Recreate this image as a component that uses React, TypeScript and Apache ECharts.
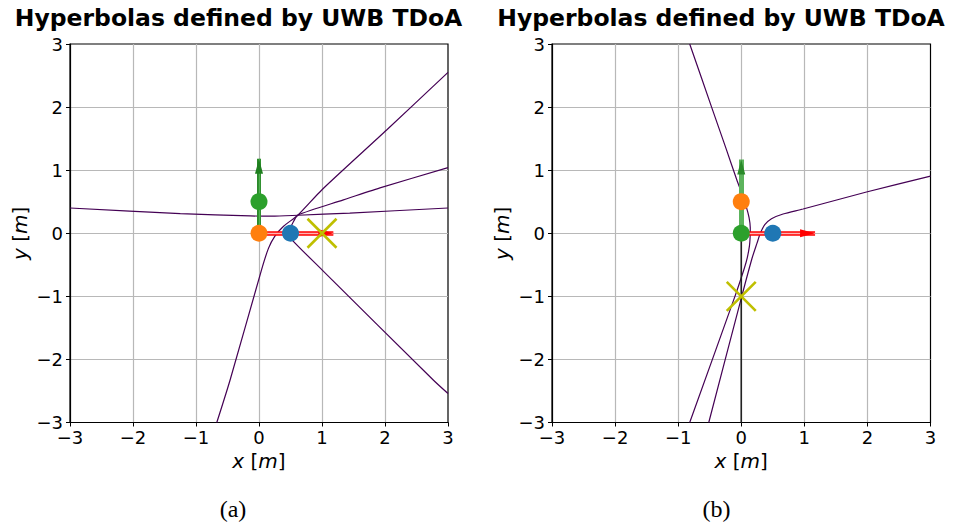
import React, { useEffect, useRef } from "react";
import * as echarts from "echarts";

// ---------- data ----------
const AXIS_MIN = -3;
const AXIS_MAX = 3;
const TITLE = "Hyperbolas defined by UWB TDoA";
const CAPTIONS = ["(a)", "(b)"];

// plot (a)
const A_BLUE = [0.5, 0];
const A_ORANGE = [0, 0];
const A_GREEN = [0, 0.5];
const A_TAG = [1, 0];
const A_RED_ARROW = [[0, 0], [1.18, 0]];
const A_GREEN_ARROW = [[0, 0], [0, 1.18]];
const A_CURVE1 = [[3.0, 2.55], [2.03, 1.64], [1.0, 0.69], [0.62, 0.29], [0.39, 0.11], [0.25, -0.05], [0.15, -0.24], [0.04, -0.58], [-0.46, -2.33], [-0.67, -3.0]];
const A_CURVE2 = [[3.0, 1.04], [1.92, 0.72], [1.34, 0.53], [0.62, 0.29], [0.55, 0.19], [0.5, 0.08], [0.49, -0.02], [0.52, -0.1], [1.0, -0.58], [2.77, -2.33], [3.0, -2.54]];
const A_CURVE3 = [[-3.0, 0.4], [-1.25, 0.31], [-0.14, 0.275], [0.2, 0.27], [0.62, 0.285], [1.44, 0.32], [3.0, 0.4]];

// plot (b)
const B_BLUE = [0.5, 0];
const B_ORANGE = [0, 0.5];
const B_GREEN = [0, 0];
const B_TAG = [0, -1];
const B_RED_ARROW = [[0, 0], [1.17, 0]];
const B_GREEN_ARROW = [[0, 0], [0, 1.17]];
const B_RAY = [[0, 0], [0, -3]];
const B_CURVE1 = [[-0.817, 3.0], [-0.47, 2.0], [-0.235, 1.325], [-0.071, 0.849], [0.016, 0.611], [0.079, 0.421], [0.124, 0.246], [0.143, 0.087], [0.14, -0.071], [0.13, -0.2], [0.095, -0.39], [0.05, -0.55], [-0.1, -1.0], [-0.817, -3.0]];
const B_CURVE2 = [[3.0, 0.905], [1.985, 0.654], [0.98, 0.384], [0.663, 0.305], [0.479, 0.23], [0.373, 0.135], [0.304, 0.003], [0.25, -0.156], [0.17, -0.4], [0.008, -1.0], [-0.515, -3.0]];

// ---------- styles ----------
const C_BLUE = "#1f77b4";
const C_ORANGE = "#ff7f0e";
const C_GREEN = "#2ca02c";
const C_CURVE = "#440154";
const C_TAG = "#bfbf00";
const FONT = "DejaVu Sans";

const fmt = (v: number) => (v < 0 ? "\u2212" + Math.abs(v) : String(v));

function makeAxes(idx: number) {
  const common = {
    type: "value" as const,
    min: AXIS_MIN,
    max: AXIS_MAX,
    interval: 1,
    gridIndex: idx,
    axisLine: { show: true, onZero: false, lineStyle: { color: "#000", width: 1.2 } },
    axisTick: { show: true, length: 4, lineStyle: { color: "#000", width: 1 } },
    axisLabel: {
      fontSize: 18,
      color: "#000",
      fontFamily: FONT,
      formatter: fmt,
      showMinLabel: true,
      showMaxLabel: true,
    },
    splitLine: { show: true, showMinLine: false, showMaxLine: false, lineStyle: { color: "#b8b8b8", width: 1.2 } },
    nameLocation: "middle" as const,
    nameTextStyle: {
      fontSize: 20,
      color: "#000",
      fontFamily: FONT,
      rich: { i: { fontStyle: "italic", fontSize: 20, fontFamily: FONT, color: "#000" } },
    },
  };
  return {
    x: { ...common, name: "{i|x} [{i|m}]", nameGap: 22, axisLabel: { ...common.axisLabel, margin: 6 } },
    y: { ...common, name: "{i|y} [{i|m}]", nameGap: 40, axisLabel: { ...common.axisLabel, margin: 7 } },
  };
}

function curve(data: number[][], idx: number) {
  return {
    type: "line",
    xAxisIndex: idx,
    yAxisIndex: idx,
    data,
    showSymbol: false,
    symbol: "none",
    smooth: 0.25,
    lineStyle: { color: C_CURVE, width: 1.2 },
    silent: true,
    z: 2,
  };
}

function shaft(coords: number[][], idx: number, color: string, width: number, z: number) {
  return {
    type: "lines",
    coordinateSystem: "cartesian2d",
    xAxisIndex: idx,
    yAxisIndex: idx,
    data: [{ coords }],
    symbol: ["none", "none"],
    lineStyle: { color, width, opacity: 1, type: "solid" },
    silent: true,
    z,
  };
}

// arrow head: triangle whose tip sits on the arrow's end point
function head(coords: number[][], idx: number, color: string, horizontal: boolean) {
  return {
    type: "scatter",
    xAxisIndex: idx,
    yAxisIndex: idx,
    data: [coords[1]],
    symbol: "triangle",
    symbolSize: [8, 15],
    symbolRotate: horizontal ? -90 : 0,
    symbolOffset: horizontal ? [-7.5, 0] : [0, 7.5],
    itemStyle: { color, opacity: 1 },
    silent: true,
    z: 3.2,
  };
}

function dots(points: number[][], colors: string[], idx: number) {
  return points.map((p, i) => ({
    type: "scatter",
    xAxisIndex: idx,
    yAxisIndex: idx,
    data: [p],
    symbol: "circle",
    symbolSize: 17,
    itemStyle: { color: colors[i], opacity: 1 },
    silent: true,
    z: 5,
  }));
}

function tag(p: number[], idx: number) {
  return {
    type: "scatter",
    xAxisIndex: idx,
    yAxisIndex: idx,
    data: [p],
    symbol: "path://M0,0L10,10M10,0L0,10",
    symbolSize: 29,
    itemStyle: { color: "rgba(0,0,0,0)", borderColor: C_TAG, borderWidth: 2.6, opacity: 1 },
    silent: true,
    z: 6,
  };
}

function titleText(x: number, text: string) {
  return { type: "text", x, y: 18, style: { text, fontSize: 23.5, fontWeight: "bold", fontFamily: FONT, fill: "#000", textAlign: "center", align: "center", textVerticalAlign: "middle", verticalAlign: "middle" } };
}

function captionText(x: number, text: string) {
  return { type: "text", x, y: 509, style: { text, fontSize: 24, fontFamily: "Liberation Serif", fill: "#000", textAlign: "center", align: "center", textVerticalAlign: "middle", verticalAlign: "middle" } };
}

export default function App() {
  const ref = useRef<HTMLDivElement>(null);
  useEffect(() => {
    if (!ref.current) return;
    const chart = echarts.init(ref.current, null, { renderer: "svg" });
    const a0 = makeAxes(0);
    const a1 = makeAxes(1);
    chart.setOption({
      animation: false,
      backgroundColor: "#fff",
      grid: [
        { left: 70, top: 44, width: 378, height: 378.5, show: true, borderColor: "#000", borderWidth: 1.2, backgroundColor: "transparent" },
        { left: 552, top: 44, width: 378.5, height: 378.5, show: true, borderColor: "#000", borderWidth: 1.2, backgroundColor: "transparent" },
      ],
      xAxis: [a0.x, a1.x],
      yAxis: [a0.y, a1.y],
      graphic: [
        titleText(238.5, TITLE),
        titleText(721, TITLE),
        captionText(233, CAPTIONS[0]),
        captionText(716.5, CAPTIONS[1]),
      ],
      series: [
        // (a)
        curve(A_CURVE1, 0),
        curve(A_CURVE2, 0),
        curve(A_CURVE3, 0),
        shaft(A_RED_ARROW, 0, "#ff0000", 4.5, 3),
        shaft(A_RED_ARROW, 0, "#ffb3b3", 1.4, 3.1),
        head(A_RED_ARROW, 0, "#ff0000", true),
        shaft(A_GREEN_ARROW, 0, "#2a8a2a", 4, 3),
        shaft(A_GREEN_ARROW, 0, "#4fb04f", 1.4, 3.1),
        head(A_GREEN_ARROW, 0, "#1f7f1f", false),
        ...dots([A_BLUE, A_ORANGE, A_GREEN], [C_BLUE, C_ORANGE, C_GREEN], 0),
        tag(A_TAG, 0),
        // (b)
        curve(B_CURVE1, 1),
        curve(B_CURVE2, 1),
        {
          type: "line",
          xAxisIndex: 1,
          yAxisIndex: 1,
          data: B_RAY,
          showSymbol: false,
          symbol: "none",
          lineStyle: { color: "#222", width: 1.6 },
          silent: true,
          z: 2,
        },
        shaft(B_RED_ARROW, 1, "#ff0000", 4.5, 3),
        shaft(B_RED_ARROW, 1, "#ffb3b3", 1.4, 3.1),
        head(B_RED_ARROW, 1, "#ff0000", true),
        shaft(B_GREEN_ARROW, 1, "#5cb35c", 5, 3),
        head(B_GREEN_ARROW, 1, "#2a8a2a", false),
        ...dots([B_BLUE, B_ORANGE, B_GREEN], [C_BLUE, C_ORANGE, C_GREEN], 1),
        tag(B_TAG, 1),
      ],
    });
    return () => chart.dispose();
  }, []);
  return <div ref={ref} style={{ position: "absolute", left: 0, top: 0, width: 955, height: 524 }} />;
}
